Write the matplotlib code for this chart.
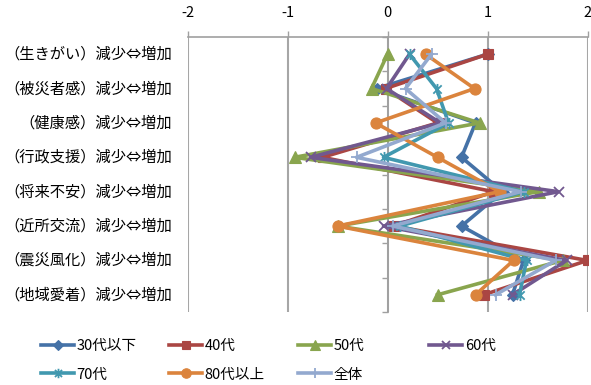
import matplotlib
matplotlib.use("Agg")
import matplotlib.pyplot as plt
from matplotlib.path import Path
from matplotlib.lines import Line2D

plt.rcParams['font.family'] = ['Noto Sans CJK JP', 'DejaVu Sans']

categories = [
    "（生きがい）減少⇔増加",
    "（被災者感）減少⇔増加",
    "（健康感）減少⇔増加",
    "（行政支援）減少⇔増加",
    "（将来不安）減少⇔増加",
    "（近所交流）減少⇔増加",
    "（震災風化）減少⇔増加",
    "（地域愛着）減少⇔増加",
]

series_names = ["30代以下", "40代", "50代", "60代", "70代", "80代以上", "全体"]

age_30 = [1.00, -0.11, 0.88, 0.74, 1.15, 0.74, 1.36, 1.25]
age_40 = [1.00, -0.02, 0.50, -0.65, 1.06, 0.06, 2.00, 0.96]
age_50 = [0.00, -0.16, 0.92, -0.93, 1.51, -0.50, 1.75, 0.50]
age_60 = [0.22, -0.01, 0.53, -0.77, 1.71, -0.04, 1.79, 1.25]
age_70 = [0.22, 0.49, 0.61, -0.04, 1.36, 0.12, 1.39, 1.32]
age_80 = [0.38, 0.87, -0.12, 0.50, 1.12, -0.50, 1.26, 0.88]
overall = [0.44, 0.18, 0.58, -0.31, 1.33, 0.05, 1.68, 1.08]

x_ticks = [-2, -1, 0, 1, 2]

colors = ["#4572A7", "#AA4643", "#89A54E", "#71588F", "#4198AF", "#DB843D", "#93A9CF"]

# star marker: an "x" crossed with a vertical bar
star = Path(
    [(0, -1), (0, 1), (-0.75, -0.75), (0.75, 0.75), (-0.75, 0.75), (0.75, -0.75)],
    [Path.MOVETO, Path.LINETO, Path.MOVETO, Path.LINETO, Path.MOVETO, Path.LINETO],
)
markers = ["D", "s", "^", "x", star, "o", "+"]
msizes = [6, 7.5, 8, 7, 8, 8, 8]

data = [age_30, age_40, age_50, age_60, age_70, age_80, overall]

fig = plt.figure(figsize=(5.91, 3.85), dpi=100)
ax = fig.add_axes([187.5 / 591, 1 - 312 / 385, 400 / 591, 275 / 385])

ypos = list(range(len(categories)))
handles = []
for vals, name, c, m, ms in zip(data, series_names, colors, markers, msizes):
    filled = m in ("D", "s", "^", "o")
    ln, = ax.plot(vals, ypos, color=c, lw=2.6, marker=m, markersize=ms,
                  markerfacecolor=c if filled else "none",
                  markeredgecolor=c, markeredgewidth=1.3 if not filled else 0.8,
                  label=name, zorder=3)
    handles.append(ln)

ax.set_xlim(-2, 2)
ax.set_ylim(len(categories) - 0.5, -0.5)

# value axis on top
ax.xaxis.tick_top()
ax.set_xticks(x_ticks)
ax.set_xticklabels([str(t) for t in x_ticks], fontsize=10.5)
ax.tick_params(axis="x", direction="out", length=4, width=1, color="#A0A0A0", pad=8)
ax.grid(axis="x", color="#A6A6A6", lw=1.5, zorder=0)

# category axis crossing at zero
ax.spines["left"].set_position(("data", 0))
ax.spines["left"].set_color("#A0A0A0")
ax.spines["left"].set_linewidth(1.2)
ax.set_yticks([])
ax.set_yticks([i + 0.5 for i in range(-1, len(categories))], minor=True)
ax.tick_params(axis="y", which="minor", direction="out", length=4, color="#A0A0A0", width=1)
ax.tick_params(axis="y", which="major", left=False, labelleft=False)
for s in ("right", "bottom"):
    ax.spines[s].set_visible(False)
ax.spines["top"].set_color("#A0A0A0")
ax.spines["top"].set_linewidth(1.2)

trans = ax.get_yaxis_transform()
for i, cat in enumerate(categories):
    ax.text(-0.038, i, cat, transform=trans, ha="right", va="center", fontsize=11)

# legend laid out in four equal columns
col_x = [40, 168, 297, 428]
cols = [[0, 4], [1, 5], [2, 6], [3]]
for cx, idx in zip(col_x, cols):
    hs = []
    for i in idx:
        h = handles[i]
        hs.append(Line2D([], [], color=h.get_color(), lw=2.6, marker=h.get_marker(),
                         markersize=h.get_markersize() * 0.85,
                         markerfacecolor=h.get_markerfacecolor(),
                         markeredgecolor=h.get_markeredgecolor(),
                         markeredgewidth=h.get_markeredgewidth(),
                         label=h.get_label()))
    fig.legend(handles=hs, loc="upper left",
               bbox_to_anchor=((cx - 2) / 591, 1 - 336 / 385),
               frameon=False, fontsize=10.5, handlelength=2.3,
               handletextpad=0.15, labelspacing=1.0, borderpad=0.2, borderaxespad=0)

fig.savefig("out.png", dpi=100)
